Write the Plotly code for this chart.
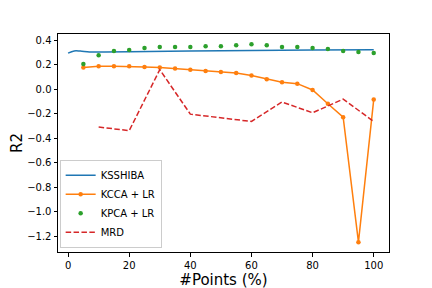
import plotly.graph_objects as go

ks_x = [0, 2, 4, 7, 12, 20, 40, 60, 80, 100]
ks_y = [0.293, 0.311, 0.310, 0.303, 0.302, 0.304, 0.310, 0.315, 0.318, 0.320]

pts = [5, 10, 15, 20, 25, 30, 35, 40, 45, 50, 55, 60, 65, 70, 75, 80, 85, 90, 95, 100]
kcca_y = [0.175, 0.186, 0.186, 0.186, 0.180, 0.175, 0.167, 0.158, 0.147, 0.139,
          0.131, 0.110, 0.080, 0.056, 0.044, -0.008, -0.120, -0.230, -1.250, -0.086]
kpca_y = [0.205, 0.275, 0.310, 0.318, 0.334, 0.342, 0.342, 0.342, 0.350, 0.350,
          0.358, 0.366, 0.358, 0.342, 0.342, 0.334, 0.326, 0.310, 0.302, 0.294]

mrd_x = [10, 20, 30, 40, 60, 70, 80, 90, 100]
mrd_y = [-0.31, -0.34, 0.158, -0.205, -0.265, -0.106, -0.194, -0.082, -0.265]

x_ticks = [0, 20, 40, 60, 80, 100]
y_ticks = [0.4, 0.2, 0.0, -0.2, -0.4, -0.6, -0.8, -1.0, -1.2]

fig = go.Figure()
fig.add_trace(go.Scatter(x=ks_x, y=ks_y, mode="lines", name="KSSHIBA",
                         line=dict(color="#1f77b4", width=1.5, shape="spline")))
fig.add_trace(go.Scatter(x=pts, y=kcca_y, mode="lines+markers", name="KCCA + LR",
                         line=dict(color="#ff7f0e", width=1.5),
                         marker=dict(color="#ff7f0e", size=4.5)))
fig.add_trace(go.Scatter(x=pts, y=kpca_y, mode="markers", name="KPCA + LR",
                         marker=dict(color="#2ca02c", size=4.5)))
fig.add_trace(go.Scatter(x=mrd_x, y=mrd_y, mode="lines", name="MRD",
                         line=dict(color="#d62728", width=1.5, dash="5.5px,2.4px")))

axis_common = dict(showline=True, linecolor="black", linewidth=1, mirror=True,
                   ticks="outside", ticklen=3.5, tickcolor="black", showgrid=False,
                   zeroline=False, automargin=False,
                   tickfont=dict(size=10, color="black"))

fig.update_layout(
    width=432, height=288,
    margin=dict(l=50, r=51, t=26, b=44),
    paper_bgcolor="white", plot_bgcolor="white",
    font=dict(family="DejaVu Sans", color="black"),
    xaxis=dict(range=[-3.3, 105], tickvals=x_ticks,
               title=dict(text="#Points (%)", font=dict(size=15), standoff=2),
               **axis_common),
    yaxis=dict(range=[-1.33, 0.449], tickvals=y_ticks, tickformat=".1f",
               title=dict(text="R2", font=dict(size=15), standoff=8),
               **axis_common),
    legend=dict(x=0.005, y=0.02, xanchor="left", yanchor="bottom",
                bordercolor="#cccccc", borderwidth=1, bgcolor="rgba(255,255,255,0.8)",
                font=dict(size=10), tracegroupgap=0, itemwidth=30),
    showlegend=True,
)

fig.write_html("out.html")
